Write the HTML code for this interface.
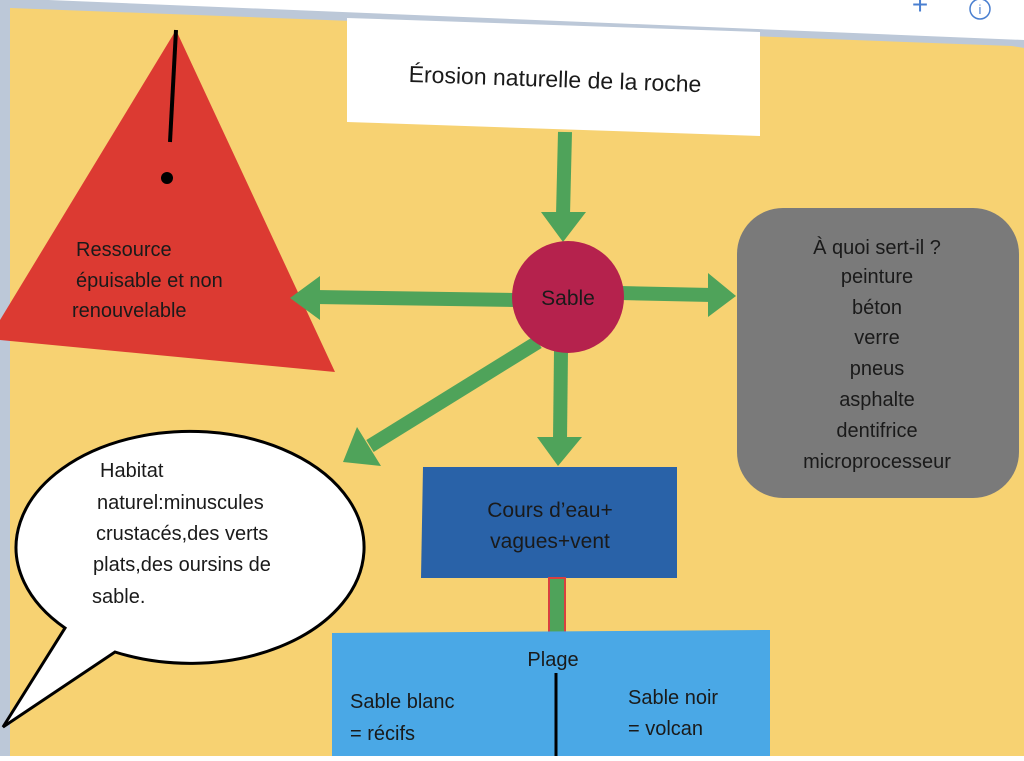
<!DOCTYPE html>
<html><head><meta charset="utf-8"><style>
html,body{margin:0;padding:0;background:#fff;}
svg text{font-family:"Liberation Sans",sans-serif;fill:#1a1a1a;}
</style></head><body>
<svg width="1024" height="756" viewBox="0 0 1024 756" xmlns="http://www.w3.org/2000/svg">
<rect width="1024" height="756" fill="#ffffff"/>
<polygon points="0,0 0,756 1024,756 1024,40 0,-2" fill="#bcc8d8"/>
<polygon points="10,8 1012,46 1024,48 1024,756 10,756" fill="#f7d272"/>
<rect x="0" y="20" width="10" height="736" fill="#bcc8d8"/>
<text x="920" y="14" font-size="28" fill="#4a7fd0" style="fill:#4a7fd0" text-anchor="middle">+</text>
<circle cx="980" cy="9" r="10" fill="none" stroke="#4a7fd0" stroke-width="1.5"/>
<text x="980" y="14" font-size="13" style="fill:#4a7fd0" text-anchor="middle">i</text>
<polygon points="347,18 760,32 760,136 347,122" fill="#ffffff"/>
<text x="555" y="87" font-size="23" text-anchor="middle" transform="rotate(2 555 80)">Érosion naturelle de la roche</text>
<polygon points="176,30 335,372 0,340 0,320" fill="#dc3a32"/>
<line x1="176" y1="30" x2="170" y2="142" stroke="#000" stroke-width="4"/>
<circle cx="167" cy="178" r="6" fill="#000"/>
<text x="76" y="256" font-size="20">Ressource</text>
<text x="76" y="287" font-size="20">épuisable et non</text>
<text x="72" y="317" font-size="20">renouvelable</text>
<g fill="#4fa35a" stroke="#4fa35a">
<line x1="565" y1="132" x2="563" y2="215" stroke-width="14"/>
<polygon points="541,212 586,212 563,242" stroke="none"/>
<line x1="515" y1="300" x2="315" y2="297" stroke-width="14"/>
<polygon points="320,276 320,320 290,298" stroke="none"/>
<line x1="620" y1="293" x2="712" y2="295" stroke-width="14"/>
<polygon points="708,273 708,317 736,296" stroke="none"/>
<line x1="561" y1="350" x2="560" y2="440" stroke-width="14"/>
<polygon points="537,437 582,437 558,466" stroke="none"/>
<line x1="538" y1="342" x2="370" y2="446" stroke-width="14"/>
<polygon points="381,466 357,427 343,462" stroke="none"/>
</g>
<circle cx="568" cy="297" r="56" fill="#b5224d"/>
<text x="568" y="305" font-size="21" text-anchor="middle">Sable</text>
<rect x="737" y="208" width="282" height="290" rx="46" fill="#7a7a7a"/>
<g font-size="20" text-anchor="middle">
<text x="877" y="254">À quoi sert-il ?</text>
<text x="877" y="283">peinture</text>
<text x="877" y="314">béton</text>
<text x="877" y="344">verre</text>
<text x="877" y="375">pneus</text>
<text x="877" y="406">asphalte</text>
<text x="877" y="437">dentifrice</text>
<text x="877" y="468">microprocesseur</text>
</g>
<polygon points="423,467 677,467 677,578 421,578" fill="#2962a8"/>
<text x="550" y="517" font-size="21" text-anchor="middle">Cours d’eau+</text>
<text x="550" y="548" font-size="21" text-anchor="middle">vagues+vent</text>
<rect x="549" y="578" width="16" height="55" fill="#4fa35a" stroke="#d94040" stroke-width="2"/>
<polygon points="332,633 770,630 770,756 332,756" fill="#4aa8e6"/>
<text x="553" y="666" font-size="20" text-anchor="middle">Plage</text>
<line x1="556" y1="673" x2="556" y2="756" stroke="#000" stroke-width="3"/>
<text x="350" y="708" font-size="20">Sable blanc</text>
<text x="350" y="740" font-size="20">= récifs</text>
<text x="628" y="704" font-size="20">Sable noir</text>
<text x="628" y="735" font-size="20">= volcan</text>
<path d="M65,628 A174,116 0 1 1 115,652 L3,727 Z" fill="#fff" stroke="#000" stroke-width="3" stroke-linejoin="miter"/>
<g font-size="20">
<text x="100" y="477">Habitat</text>
<text x="97" y="509">naturel:minuscules</text>
<text x="96" y="540">crustacés,des verts</text>
<text x="93" y="571">plats,des oursins de</text>
<text x="92" y="603">sable.</text>
</g>
</svg>
</body></html>
